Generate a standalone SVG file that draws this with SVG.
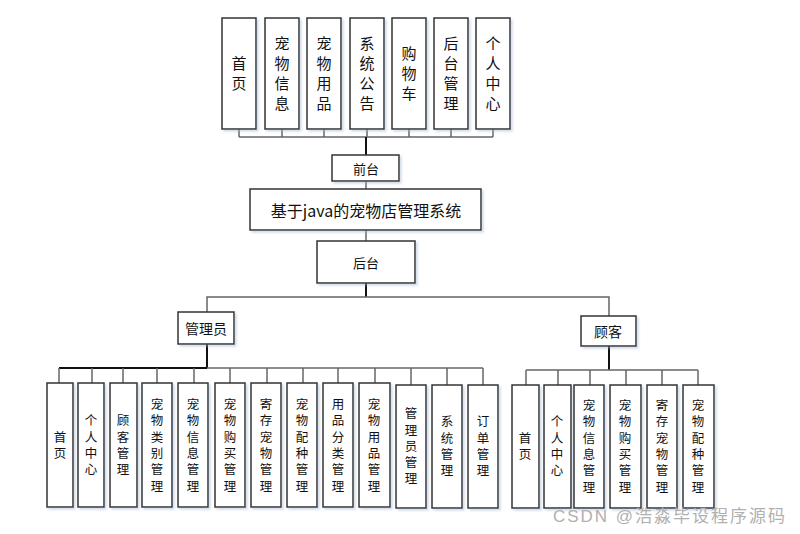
<svg xmlns="http://www.w3.org/2000/svg" width="800" height="534" viewBox="0 0 800 534">
<defs>
<filter id="sh" x="-20%" y="-20%" width="150%" height="150%">
<feDropShadow dx="2" dy="2" stdDeviation="1.2" flood-color="#9fb4d0" flood-opacity="0.45"/>
</filter>
<style>
.b{fill:#fff;stroke:#333;stroke-width:1.5;filter:url(#sh)}
.t{font-family:"Noto Sans CJK SC","Liberation Sans",sans-serif;fill:#111;text-anchor:middle;dominant-baseline:central}
.v{font-family:"Noto Sans CJK SC",sans-serif;fill:#111;writing-mode:vertical-rl;text-anchor:middle}
.top{font-size:15px;letter-spacing:5px}
.sm{font-size:12.5px;letter-spacing:3.8px}
.c line,.c polyline{stroke:#666;stroke-width:1.5;fill:none}
.c .k{stroke:#111;stroke-width:2}
.wm{font-family:"Liberation Sans","Noto Sans CJK SC",sans-serif;font-size:17px;fill:#b0b0b0}
</style>
</defs>
<rect width="800" height="534" fill="#fff"/>
<g class="c" id="connectors">
<line x1="239" y1="137" x2="493" y2="137"/>
<line x1="239" y1="129" x2="239" y2="137"/>
<line x1="282" y1="129" x2="282" y2="137"/>
<line x1="324" y1="129" x2="324" y2="137"/>
<line x1="367" y1="129" x2="367" y2="137"/>
<line x1="409" y1="129" x2="409" y2="137"/>
<line x1="451" y1="129" x2="451" y2="137"/>
<line x1="493" y1="129" x2="493" y2="137"/>
<line class="k" x1="366" y1="137" x2="366" y2="155"/>
<line x1="366" y1="181" x2="366" y2="189"/>
<line x1="366" y1="230" x2="366" y2="241"/>
<line class="k" x1="366" y1="283" x2="366" y2="297"/>
<polyline points="207,312 207,297 609,297 609,316"/>
<line class="k" x1="207" y1="344" x2="207" y2="368"/>
<line class="k" x1="59" y1="368" x2="207" y2="368"/>
<line x1="207" y1="368" x2="483" y2="368"/>
<line x1="59" y1="368" x2="59" y2="383"/>
<line x1="92" y1="368" x2="92" y2="383"/>
<line x1="123" y1="368" x2="123" y2="383"/>
<line x1="157" y1="368" x2="157" y2="383"/>
<line x1="194" y1="368" x2="194" y2="383"/>
<line x1="230" y1="368" x2="230" y2="383"/>
<line x1="267" y1="368" x2="267" y2="383"/>
<line x1="303" y1="368" x2="303" y2="383"/>
<line x1="338" y1="368" x2="338" y2="383"/>
<line x1="375" y1="368" x2="375" y2="383"/>
<line x1="411" y1="368" x2="411" y2="385"/>
<line x1="447" y1="368" x2="447" y2="385"/>
<line x1="483" y1="368" x2="483" y2="385"/>
<line class="k" x1="609" y1="346" x2="609" y2="370"/>
<line x1="526" y1="370" x2="698" y2="370"/>
<line x1="526" y1="370" x2="526" y2="385"/>
<line x1="558" y1="370" x2="558" y2="385"/>
<line x1="590" y1="370" x2="590" y2="385"/>
<line x1="626" y1="370" x2="626" y2="385"/>
<line x1="662" y1="370" x2="662" y2="385"/>
<line x1="698" y1="370" x2="698" y2="385"/>
</g>
<g id="top1"><rect class="b" x="222" y="18" width="34" height="111"/><text class="v top" x="239" y="76">首页</text></g>
<g id="top2"><rect class="b" x="265" y="18" width="34" height="111"/><text class="v top" x="282" y="76">宠物信息</text></g>
<g id="top3"><rect class="b" x="307" y="18" width="34" height="111"/><text class="v top" x="324" y="76">宠物用品</text></g>
<g id="top4"><rect class="b" x="350" y="18" width="34" height="111"/><text class="v top" x="367" y="76">系统公告</text></g>
<g id="top5"><rect class="b" x="392" y="18" width="34" height="111"/><text class="v top" x="409" y="76">购物车</text></g>
<g id="top6"><rect class="b" x="434" y="18" width="34" height="111"/><text class="v top" x="451" y="76">后台管理</text></g>
<g id="top7"><rect class="b" x="476" y="18" width="34" height="111"/><text class="v top" x="493" y="76">个人中心</text></g>
<g id="qiantai"><rect class="b" x="332" y="155" width="67" height="26"/><text class="t" x="366" y="168" font-size="13">前台</text></g>
<g id="title"><rect class="b" x="250" y="189" width="231" height="41"/><text class="t" x="366" y="210" font-size="16">基于java的宠物店管理系统</text></g>
<g id="houtai"><rect class="b" x="317" y="241" width="98" height="42"/><text class="t" x="366" y="262" font-size="13">后台</text></g>
<g id="admin"><rect class="b" x="178" y="312" width="56" height="32"/><text class="t" x="206" y="328" font-size="14">管理员</text></g>
<g id="customer"><rect class="b" x="581" y="316" width="55" height="30"/><text class="t" x="608" y="331" font-size="14">顾客</text></g>
<g id="a1"><rect class="b" x="47" y="383" width="26" height="124"/><text class="v sm" x="60" y="447">首页</text></g>
<g id="a2"><rect class="b" x="78" y="383" width="26" height="124"/><text class="v sm" x="91" y="447">个人中心</text></g>
<g id="a3"><rect class="b" x="110" y="383" width="27" height="124"/><text class="v sm" x="123" y="447">顾客管理</text></g>
<g id="a4"><rect class="b" x="142" y="383" width="30" height="124"/><text class="v sm" x="157" y="447">宠物类别管理</text></g>
<g id="a5"><rect class="b" x="178" y="383" width="30" height="124"/><text class="v sm" x="193" y="447">宠物信息管理</text></g>
<g id="a6"><rect class="b" x="215" y="383" width="30" height="124"/><text class="v sm" x="230" y="447">宠物购买管理</text></g>
<g id="a7"><rect class="b" x="251" y="383" width="30" height="124"/><text class="v sm" x="266" y="447">寄存宠物管理</text></g>
<g id="a8"><rect class="b" x="287" y="383" width="30" height="124"/><text class="v sm" x="302" y="447">宠物配种管理</text></g>
<g id="a9"><rect class="b" x="323" y="383" width="30" height="124"/><text class="v sm" x="338" y="447">用品分类管理</text></g>
<g id="a10"><rect class="b" x="359" y="383" width="31" height="124"/><text class="v sm" x="374" y="447">宠物用品管理</text></g>
<g id="a11"><rect class="b" x="396" y="385" width="30" height="123"/><text class="v sm" x="411" y="448">管理员管理</text></g>
<g id="a12"><rect class="b" x="432" y="385" width="30" height="123"/><text class="v sm" x="447" y="448">系统管理</text></g>
<g id="a13"><rect class="b" x="468" y="385" width="30" height="123"/><text class="v sm" x="483" y="448">订单管理</text></g>
<g id="c1"><rect class="b" x="512" y="385" width="27" height="123"/><text class="v sm" x="525" y="448">首页</text></g>
<g id="c2"><rect class="b" x="544" y="385" width="27" height="123"/><text class="v sm" x="557" y="448">个人中心</text></g>
<g id="c3"><rect class="b" x="574" y="385" width="30" height="123"/><text class="v sm" x="589" y="448">宠物信息管理</text></g>
<g id="c4"><rect class="b" x="610" y="385" width="31" height="123"/><text class="v sm" x="625" y="448">宠物购买管理</text></g>
<g id="c5"><rect class="b" x="647" y="385" width="30" height="123"/><text class="v sm" x="662" y="448">寄存宠物管理</text></g>
<g id="c6"><rect class="b" x="683" y="385" width="31" height="123"/><text class="v sm" x="698" y="448">宠物配种管理</text></g>
<text class="wm" x="553" y="522" textLength="232" lengthAdjust="spacing">CSDN @浩淼毕设程序源码</text>
</svg>
